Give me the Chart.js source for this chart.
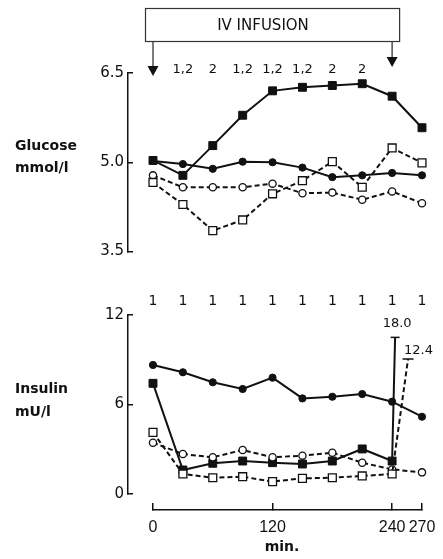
<!DOCTYPE html>
<html><head><meta charset="utf-8">
<script src="https://cdn.jsdelivr.net/npm/chart.js@4"></script>
<style>
html,body{margin:0;padding:0;background:#fff;}
#wrap{position:relative;width:443px;height:559px;overflow:hidden;font-family:"DejaVu Sans",sans-serif;color:#111;background:#fff;}
canvas{position:absolute;left:0;}
.lab{position:absolute;left:15px;font-weight:bold;font-size:14px;white-space:nowrap;}
</style></head>
<body><div id="wrap">
<canvas id="c1" width="443" height="280" style="top:0"></canvas>
<canvas id="c2" width="443" height="279" style="top:280px"></canvas>
<div class="lab" style="top:134px;line-height:22px">Glucose<br>mmol/l</div>
<div class="lab" style="top:377px;line-height:23px">Insulin<br>mU/l</div>
<div class="lab" style="left:282px;top:538px;line-height:16px;transform:translateX(-50%)">min.</div>
</div>
<script>
// ---- data ----
const times = [0, 30, 60, 90, 120, 150, 180, 210, 240, 270];
const timeTicks = [0, 120, 240, 270];
const glucoseTicks = [3.5, 5.0, 6.5];
const insulinTicks = [0, 6, 12];

const glucoseFilledSquare = [5.03, 4.78, 5.28, 5.79, 6.20, 6.26, 6.29, 6.32, 6.11, 5.58];
const glucoseFilledCircle = [5.02, 4.97, 4.89, 5.01, 5.00, 4.91, 4.75, 4.78, 4.82, 4.78];
const glucoseOpenCircle   = [4.78, 4.58, 4.58, 4.58, 4.64, 4.48, 4.49, 4.37, 4.51, 4.31];
const glucoseOpenSquare   = [4.66, 4.29, 3.85, 4.03, 4.47, 4.69, 5.01, 4.58, 5.24, 4.99];

const insulinFilledCircle = [8.65, 8.16, 7.49, 7.04, 7.80, 6.41, 6.52, 6.70, 6.19, 5.18];
const insulinFilledSquare = [7.42, 1.61, 2.06, 2.21, 2.10, 2.01, 2.21, 3.02, 2.21];
const insulinOpenCircle   = [3.44, 2.68, 2.46, 2.95, 2.46, 2.57, 2.77, 2.10, 1.65, 1.45];
const insulinOpenSquare   = [4.13, 1.34, 1.09, 1.16, 0.83, 1.05, 1.09, 1.21, 1.34];

// off-scale values at 270 min (drawn as broken lines ending in a cap)
const offScaleLabels = ['18.0', '12.4'];
const offScaleTimes = [243, 256];
const offScaleShown = [10.5, 9.05];

const glucoseSigTimes = [30, 60, 90, 120, 150, 180, 210];
const glucoseSigLabels = ['1,2', '2', '1,2', '1,2', '1,2', '2', '2'];
const insulinSigTimes = [0, 30, 60, 90, 120, 150, 180, 210, 240, 270];
const insulinSigLabels = ['1', '1', '1', '1', '1', '1', '1', '1', '1', '1'];

const infusionStart = 0, infusionEnd = 240;
const infusionLabel = 'IV INFUSION';

// ---- helpers ----
const INK = '#111';
const FONT = '"DejaVu Sans", sans-serif';
const pts = (vals) => vals.map((v, i) => ({x: times[i], y: v}));

function series(data, kind, dashed, extra) {
  const filled = kind.startsWith('filled');
  const sq = kind.endsWith('Square');
  return Object.assign({
    data: data,
    borderColor: INK,
    borderWidth: 2,
    borderDash: dashed ? [5, 3] : [],
    backgroundColor: filled ? INK : '#fff',
    pointBackgroundColor: filled ? INK : '#fff',
    pointBorderColor: INK,
    pointBorderWidth: filled ? 1 : 1.3,
    pointStyle: sq ? 'rect' : 'circle',
    pointRadius: sq ? 5.6 : 3.6,
    tension: 0,
    clip: false,
    fill: false
  }, extra || {});
}

function yAxis(min, max, tickVals, dec, size) {
  return {
    type: 'linear', position: 'left', weight: 1, min: min, max: max,
    afterFit: (s) => { s.width = 128; },
    afterBuildTicks: (s) => { s.ticks = tickVals.map(v => ({value: v})); },
    border: {display: true, color: INK, width: 1.5},
    grid: {display: true, drawOnChartArea: false, drawTicks: true, tickLength: -5, color: INK, lineWidth: 1.5},
    ticks: {padding: 9, color: INK, font: {family: FONT, size: size}, callback: (v) => dec ? Number(v).toFixed(dec) : String(v)}
  };
}
const ySpacer = {
  type: 'linear', axis: 'y', position: 'left', weight: 0, display: true,
  afterFit: (s) => { s.width = 25; },
  border: {display: false}, grid: {display: false}, ticks: {display: false}
};

function drawArrow(ctx, x, y0, tip) {
  ctx.beginPath(); ctx.moveTo(x, y0); ctx.lineTo(x, tip - 9); ctx.stroke();
  ctx.beginPath(); ctx.moveTo(x - 5.5, tip - 10); ctx.lineTo(x + 5.5, tip - 10); ctx.lineTo(x, tip); ctx.closePath(); ctx.fill();
}

const glucoseAnnot = {
  id: 'glucoseAnnot',
  afterDraw(chart) {
    const {ctx} = chart; const x = chart.scales.x;
    const x0 = x.getPixelForValue(infusionStart), x1 = x.getPixelForValue(infusionEnd);
    ctx.save();
    ctx.strokeStyle = '#333'; ctx.fillStyle = INK; ctx.lineWidth = 1.2;
    const bl = x0 - 8, br = x1 + 7;
    ctx.strokeRect(bl + 0.5, 8.5, br - bl, 33);
    ctx.font = '15px ' + FONT; ctx.textAlign = 'center'; ctx.textBaseline = 'middle';
    ctx.fillText(infusionLabel, bl + 118, 26);
    ctx.lineWidth = 1.3;
    drawArrow(ctx, x0, 42, 76);
    drawArrow(ctx, x1, 42, 67);
    ctx.font = '13px ' + FONT;
    glucoseSigTimes.forEach((t, i) => ctx.fillText(glucoseSigLabels[i], x.getPixelForValue(t), 70));
    ctx.restore();
  }
};

const insulinAnnot = {
  id: 'insulinAnnot',
  afterDraw(chart) {
    const {ctx} = chart; const x = chart.scales.x, y = chart.scales.y;
    ctx.save();
    ctx.fillStyle = INK; ctx.textBaseline = 'middle'; ctx.textAlign = 'center';
    ctx.font = '14px ' + FONT;
    insulinSigTimes.forEach((t, i) => ctx.fillText(insulinSigLabels[i], x.getPixelForValue(t), 21));
    ctx.font = '13px ' + FONT; ctx.textBaseline = 'alphabetic';
    let px = x.getPixelForValue(offScaleTimes[0]), py = y.getPixelForValue(offScaleShown[0]);
    ctx.textAlign = 'center'; ctx.fillText(offScaleLabels[0], px + 2, py - 10);
    px = x.getPixelForValue(offScaleTimes[1]); py = y.getPixelForValue(offScaleShown[1]);
    ctx.textAlign = 'left'; ctx.fillText(offScaleLabels[1], px - 4, py - 5);
    ctx.restore();
  }
};

const common = {
  responsive: false, animation: false,
  plugins: {legend: {display: false}, tooltip: {enabled: false}}
};

// ---- glucose panel ----
new Chart(document.getElementById('c1'), {
  type: 'line',
  data: {datasets: [
    series(pts(glucoseOpenSquare), 'openSquare', true),
    series(pts(glucoseOpenCircle), 'openCircle', true),
    series(pts(glucoseFilledSquare), 'filledSquare', false),
    series(pts(glucoseFilledCircle), 'filledCircle', false)
  ]},
  options: Object.assign({}, common, {
    layout: {padding: {top: 73, bottom: 28.5, left: 0, right: 21}},
    scales: {
      x: {type: 'linear', min: 0, max: 270, display: false},
      y: yAxis(3.5, 6.5, glucoseTicks, 1, 15),
      ys: ySpacer
    }
  }),
  plugins: [glucoseAnnot]
});

// ---- insulin panel ----
const fsData = pts(insulinFilledSquare).concat([{x: offScaleTimes[0], y: offScaleShown[0]}]);
const osData = pts(insulinOpenSquare).concat([{x: offScaleTimes[1], y: offScaleShown[1]}]);
const capStyle = (n, normal) => (c) => c.dataIndex === n ? 'line' : normal;

new Chart(document.getElementById('c2'), {
  type: 'line',
  data: {datasets: [
    series(osData, 'openSquare', true, {
      pointStyle: capStyle(insulinOpenSquare.length, 'rect'),
      pointRadius: (c) => c.dataIndex === insulinOpenSquare.length ? 5.5 : 5.6,
      pointBorderWidth: (c) => c.dataIndex === insulinOpenSquare.length ? 1.5 : 1.3
    }),
    series(pts(insulinOpenCircle), 'openCircle', true),
    series(fsData, 'filledSquare', false, {
      pointStyle: capStyle(insulinFilledSquare.length, 'rect'),
      pointRadius: (c) => c.dataIndex === insulinFilledSquare.length ? 4.5 : 5.6,
      pointBorderWidth: (c) => c.dataIndex === insulinFilledSquare.length ? 1.5 : 1
    }),
    series(pts(insulinFilledCircle), 'filledCircle', false)
  ]},
  options: Object.assign({}, common, {
    layout: {padding: {top: 35, bottom: 9, left: 0, right: 21}},
    scales: {
      x: {
        type: 'linear', position: 'bottom', weight: 1, min: 0, max: 270,
        afterFit: (s) => { s.height = 40; s.paddingLeft = 0; s.paddingRight = 0; },
        afterBuildTicks: (s) => { s.ticks = timeTicks.map(v => ({value: v})); },
        border: {display: true, color: INK, width: 1.5},
        grid: {display: true, drawOnChartArea: false, drawTicks: true, tickLength: -7, color: INK, lineWidth: 1.5},
        ticks: {padding: 15, color: INK, autoSkip: false, maxRotation: 0, font: {family: '"Liberation Sans", Arial, sans-serif', size: 16}}
      },
      xs: {
        type: 'linear', axis: 'x', position: 'bottom', weight: 0, display: true,
        afterFit: (s) => { s.height = 16; },
        border: {display: false}, grid: {display: false}, ticks: {display: false}
      },
      y: yAxis(0, 12, insulinTicks, 0, 15),
      ys: ySpacer
    }
  }),
  plugins: [insulinAnnot]
});
</script>
</body></html>
